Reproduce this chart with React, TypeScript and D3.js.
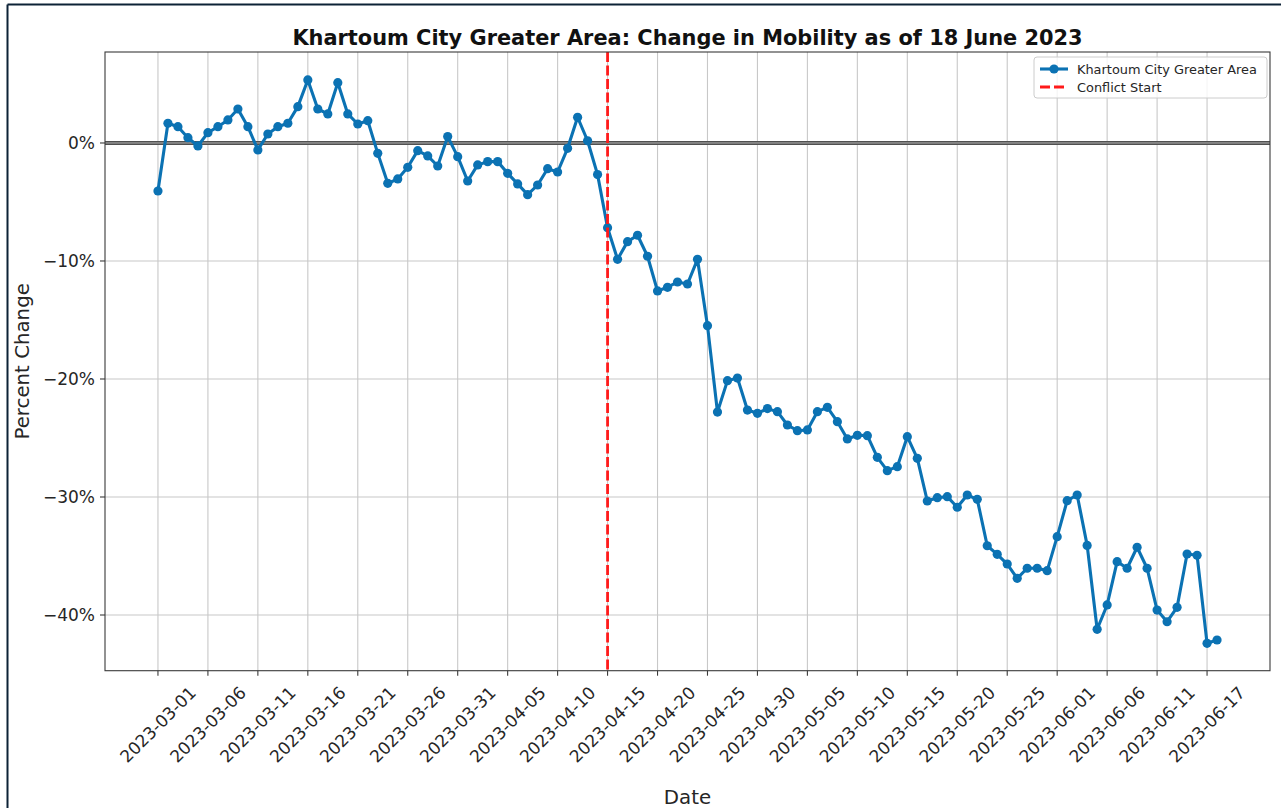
import * as d3 from 'd3';
import React from 'react';

// --------------------------------------------------------
// data: one value per day (a few days are missing
// in the source, so the x axis is by position, not by calendar)
// --------------------------------------------------------
const values = [
  -4.07, 1.67, 1.38, 0.45, -0.25, 0.87, 1.38, 1.95, 2.88, 1.38,
  -0.59, 0.76, 1.38, 1.67, 3.08, 5.34, 2.88, 2.46, 5.11, 2.46,
  1.61, 1.89, -0.88, -3.42, -3.05, -2.06, -0.65, -1.10, -1.95, 0.54,
  -1.16, -3.22, -1.86, -1.58, -1.58, -2.57, -3.47, -4.38, -3.56, -2.18,
  -2.46, -0.45, 2.18, 0.19, -2.68, -7.18, -9.86, -8.36, -7.82, -9.60,
  -12.54, -12.23, -11.78, -11.95, -9.86, -15.48, -22.80, -20.14, -19.92, -22.63,
  -22.91, -22.51, -22.77, -23.90, -24.38, -24.32, -22.77, -22.40, -23.62, -25.08,
  -24.77, -24.80, -26.64, -27.77, -27.43, -24.89, -26.72, -30.34, -30.06, -29.97,
  -30.87, -29.83, -30.20, -34.13, -34.86, -35.68, -36.89, -36.04, -36.04, -36.24,
  -33.36, -30.31, -29.83, -34.10, -41.21, -39.15, -35.48, -36.04, -34.26, -36.04,
  -39.58, -40.57, -39.35, -34.83, -34.94, -42.40, -42.12
];

// every 5th position gets a label
const tickStep = 5;
const tickLabels = [
  '2023-03-01', '2023-03-06', '2023-03-11', '2023-03-16', '2023-03-21',
  '2023-03-26', '2023-03-31', '2023-04-05', '2023-04-10', '2023-04-15',
  '2023-04-20', '2023-04-25', '2023-04-30', '2023-05-05', '2023-05-10',
  '2023-05-15', '2023-05-20', '2023-05-25', '2023-06-01', '2023-06-06',
  '2023-06-11', '2023-06-17'
];

const yTicks = [0, -10, -20, -30, -40];
const conflictIndex = 45; // 2023-04-15

const seriesName = 'Khartoum City Greater Area';
const conflictName = 'Conflict Start';
const title = 'Khartoum City Greater Area: Change in Mobility as of 18 June 2023';

const W = 1281;
const H = 808;
const plot = { left: 105, right: 1270, top: 52, bottom: 670.7 };
const blue = '#0b72b3';
const font = 'DejaVu Sans, sans-serif';

function App() {
  // matplotlib style 5% margins around the data
  const x = d3.scaleLinear()
    .domain([-5.3, values.length - 1 + 5.3])
    .range([plot.left, plot.right]);
  const y = d3.scaleLinear()
    .domain([-44.72, 7.71])
    .range([plot.bottom, plot.top]);

  const line = d3.line<number>()
    .x((d, i) => x(i))
    .y(d => y(d));

  const xTickPos = tickLabels.map((_, i) => i * tickStep);
  const cx = (plot.left + plot.right) / 2;
  const cy = (plot.top + plot.bottom) / 2;
  const fmt = (v: number) => (v < 0 ? '\u2212' + Math.abs(v) : String(v)) + '%';

  const legX = 1034, legY = 57;

  return (
    <svg width={W} height={H} style={{ position: 'absolute', left: 0, top: 0, background: '#fff' }}
      fontFamily={font}>
      <rect x={0} y={0} width={W} height={H} fill="#fff" />
      {/* outer frame, only top and left edges show */}
      <line x1={7.5} x2={W} y1={4.5} y2={4.5} stroke="#0d2236" strokeWidth={2} />
      <line x1={7.5} x2={7.5} y1={4.5} y2={H} stroke="#0d2236" strokeWidth={2} />

      {/* grid */}
      <g stroke="#c8c8c8" strokeWidth={1.1}>
        {xTickPos.map(i => (
          <line key={'gx' + i} x1={x(i)} x2={x(i)} y1={plot.top} y2={plot.bottom} />
        ))}
        {yTicks.map(t => (
          <line key={'gy' + t} x1={plot.left} x2={plot.right} y1={y(t)} y2={y(t)} />
        ))}
      </g>

      {/* zero line */}
      <line x1={plot.left} x2={plot.right} y1={y(0)} y2={y(0)} stroke="#505050" strokeWidth={4.2} />
      <line x1={plot.left} x2={plot.right} y1={y(0)} y2={y(0)} stroke="#b5b5b5" strokeWidth={1} />

      {/* series */}
      <path d={line(values) || ''} fill="none" stroke={blue} strokeWidth={3.1} strokeLinejoin="round" />
      {values.map((v, i) => (
        <circle key={'p' + i} cx={x(i)} cy={y(v)} r={4.6} fill={blue} />
      ))}

      {/* conflict start */}
      <line x1={x(conflictIndex)} x2={x(conflictIndex)} y1={plot.top} y2={plot.bottom}
        stroke="#ff1a1a" strokeWidth={2.8} strokeDasharray="10,3.5" />

      {/* axes frame */}
      <rect x={plot.left} y={plot.top} width={plot.right - plot.left} height={plot.bottom - plot.top}
        fill="none" stroke="#3a3a3a" strokeWidth={1.1} />

      {/* y ticks */}
      {yTicks.map(t => (
        <g key={'yt' + t}>
          <line x1={plot.left - 5} x2={plot.left} y1={y(t)} y2={y(t)} stroke="#3a3a3a" strokeWidth={1.1} />
          <text x={plot.left - 10} y={y(t)} dy="0.35em" textAnchor="end" fontSize={17} fill="#262626">
            {fmt(t)}
          </text>
        </g>
      ))}

      {/* x ticks, labels rotated 45 deg and centred on the tick */}
      {xTickPos.map((i, k) => (
        <g key={'xt' + i}>
          <line x1={x(i)} x2={x(i)} y1={plot.bottom} y2={plot.bottom + 5} stroke="#3a3a3a" strokeWidth={1.1} />
          <text transform={`translate(${x(i)},${plot.bottom + 54}) rotate(-45)`}
            textAnchor="middle" dy="0.35em" fontSize={17} fill="#262626">
            {tickLabels[k]}
          </text>
        </g>
      ))}

      {/* labels */}
      <text x={cx} y={44.5} textAnchor="middle" fontSize={20.9} fontWeight="bold" fill="#111">{title}</text>
      <text x={cx} y={804} textAnchor="middle" fontSize={19.8} fill="#262626">Date</text>
      <text transform={`translate(29,${cy}) rotate(-90)`} textAnchor="middle" fontSize={19.8} fill="#262626">
        Percent Change
      </text>

      {/* legend */}
      <g>
        <rect x={legX} y={legY} width={233} height={41} rx={3} fill="#fff" fillOpacity={0.8}
          stroke="#cccccc" strokeWidth={1} />
        <line x1={legX + 6} x2={legX + 34} y1={legY + 12} y2={legY + 12} stroke={blue} strokeWidth={3.1} />
        <circle cx={legX + 20} cy={legY + 12} r={4.6} fill={blue} />
        <text x={legX + 43} y={legY + 12} dy="0.35em" fontSize={12.9} fill="#262626">{seriesName}</text>
        <line x1={legX + 6} x2={legX + 34} y1={legY + 30} y2={legY + 30} stroke="#ff1a1a" strokeWidth={2.8}
          strokeDasharray="10,4" />
        <text x={legX + 43} y={legY + 30} dy="0.35em" fontSize={12.9} fill="#262626">{conflictName}</text>
      </g>
    </svg>
  );
}

export default App;
